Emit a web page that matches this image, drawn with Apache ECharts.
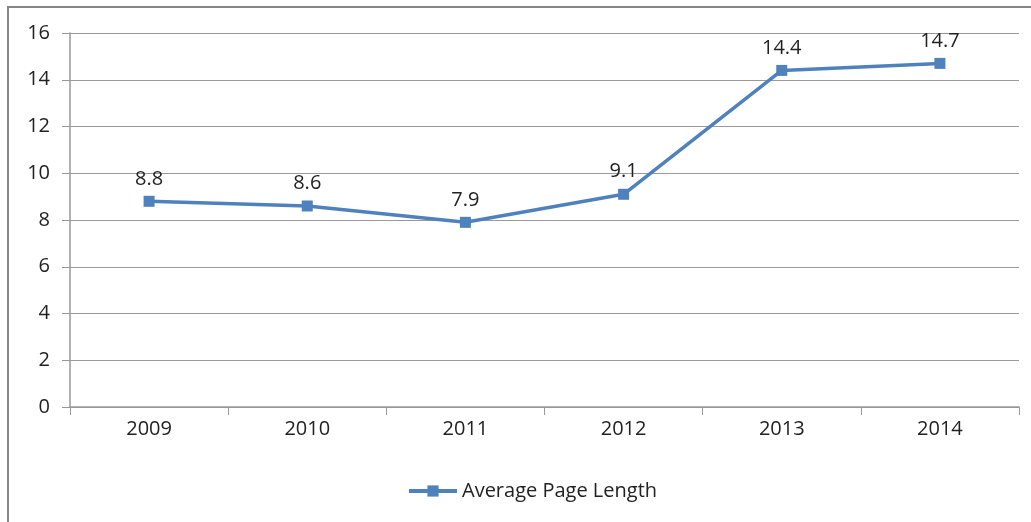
<!DOCTYPE html>
<html><head><meta charset="utf-8">
<style>html,body{margin:0;padding:0;background:#fff}#c{width:1031px;height:522px}</style>
<script src="https://cdn.jsdelivr.net/npm/echarts@6/dist/echarts.min.js"></script>
</head><body><div id="c"></div>
<script>
const categories = ['2009','2010','2011','2012','2013','2014'];
const seriesName = 'Average Page Length';
const values = [8.8, 8.6, 7.9, 9.1, 14.4, 14.7];
const yTicks = {min:0, max:16, interval:2};

const chart = echarts.init(document.getElementById('c'), null, {renderer:'canvas'});
const font = '"Open Sans", "Noto Sans", sans-serif';
chart.setOption({
  animation:false,
  backgroundColor:'#fff',
  graphic:[{type:'rect', shape:{x:8,y:7,width:1100,height:600}, style:{fill:'none', stroke:'#868686', lineWidth:2}, silent:true}],
  grid:{left:70, right:12, top:33, bottom:115, containLabel:false},
  legend:{bottom:16, left:402, itemWidth:48, itemHeight:14, itemGap:6,
    lineStyle:{width:4},
    textStyle:{fontFamily:font, fontSize:20, color:'#222'}, data:[{name:seriesName}]},
  xAxis:{type:'category', data:categories, boundaryGap:true,
    axisLine:{lineStyle:{color:'#999', width:1.5}},
    axisTick:{show:true, length:8, lineStyle:{color:'#999'}},
    axisLabel:{fontFamily:font, fontSize:20, color:'#222', margin:12}},
  yAxis:{type:'value', min:yTicks.min, max:yTicks.max, interval:yTicks.interval,
    axisLine:{show:true, lineStyle:{color:'#999', width:1.5}},
    axisTick:{show:true, length:8, lineStyle:{color:'#999'}},
    splitLine:{lineStyle:{color:'#999', width:1.2}},
    axisLabel:{fontFamily:font, fontSize:20, color:'#222', margin:20}},
  series:[{name:seriesName, type:'line', data:values,
    symbol:'rect', symbolSize:11, showAllSymbol:true,
    lineStyle:{color:'#4F81BD', width:3.5},
    itemStyle:{color:'#4F81BD'},
    label:{show:true, position:'top', distance:7, fontFamily:font, fontSize:20, color:'#222'}}]
});
</script></body></html>
